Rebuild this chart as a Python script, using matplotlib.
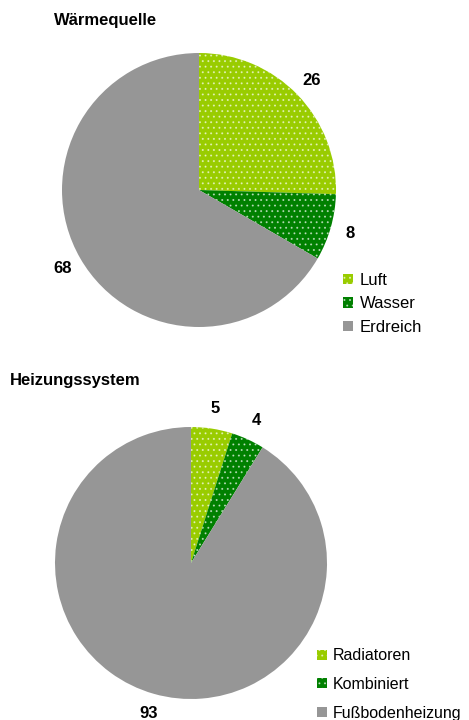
import numpy as np
import matplotlib.pyplot as plt
from matplotlib.patches import Patch

plt.rcParams['font.family'] = ['Liberation Sans', 'DejaVu Sans']
plt.rcParams['hatch.linewidth'] = 0.7

# Daten
quelle_labels = ['Luft', 'Wasser', 'Erdreich']
quelle_werte = [26, 8, 68]
system_labels = ['Radiatoren', 'Kombiniert', 'Fußbodenheizung']
system_werte = [5, 4, 93]

farben = ['#99cc00', '#008000', '#969696']
hatches = ['...', '...', None]
dot_col = (1, 1, 1, 0.55)

W, H = 469, 720
fig = plt.figure(figsize=(W / 100, H / 100), dpi=100)


def pie_axes(cx, cy, r):
    # Achse in Pixelkoordinaten, Radius 1
    return fig.add_axes([(cx - r) / W, 1 - (cy + r) / H, 2 * r / W, 2 * r / H])


def draw_pie(ax, werte):
    wedges, texts = ax.pie(werte, colors=farben, startangle=90, counterclock=False,
                           radius=1, labels=[str(v) for v in werte], labeldistance=1.15,
                           wedgeprops=dict(linewidth=0))
    for w, h in zip(wedges, hatches):
        if h:
            w.set_hatch(h)
            w.set_edgecolor(dot_col)
            w.set_linewidth(0)
    for t in texts:
        t.set_ha('center')
        t.set_va('center')
        t.set_fontsize(12)
        t.set_fontweight('bold')
        t.set_clip_on(False)
    ax.set_xlim(-1, 1)
    ax.set_ylim(-1, 1)
    ax.set_aspect('equal')
    ax.axis('off')
    return wedges


def legend_handles(labels):
    hs = []
    for lab, c, h in zip(labels, farben, hatches):
        p = Patch(facecolor=c, edgecolor=dot_col if h else c, hatch=h,
                  linewidth=0, label=lab)
        hs.append(p)
    return hs


ax1 = pie_axes(199, 190, 137)
draw_pie(ax1, quelle_werte)
ax2 = pie_axes(191, 563, 136)
draw_pie(ax2, system_werte)

fig.text(106 / W, 1 - 21 / H, 'Wärmequelle', ha='center', va='center',
         fontsize=12, fontweight='bold')
fig.text(10 / W, 1 - 381 / H, 'Heizungssystem', ha='left', va='center',
         fontsize=12, fontweight='bold')

fig.legend(handles=legend_handles(quelle_labels), loc='upper left',
           bbox_to_anchor=(328 / W, 1 - 258 / H), frameon=False, fontsize=12,
           handlelength=0.6, handleheight=0.6, handletextpad=0.4, labelspacing=0.5)
fig.legend(handles=legend_handles(system_labels), loc='upper left',
           bbox_to_anchor=(303 / W, 1 - 634 / H), frameon=False, fontsize=11.5,
           handlelength=0.6, handleheight=0.6, handletextpad=0.35, labelspacing=0.85)

fig.savefig('out.png', dpi=100)
